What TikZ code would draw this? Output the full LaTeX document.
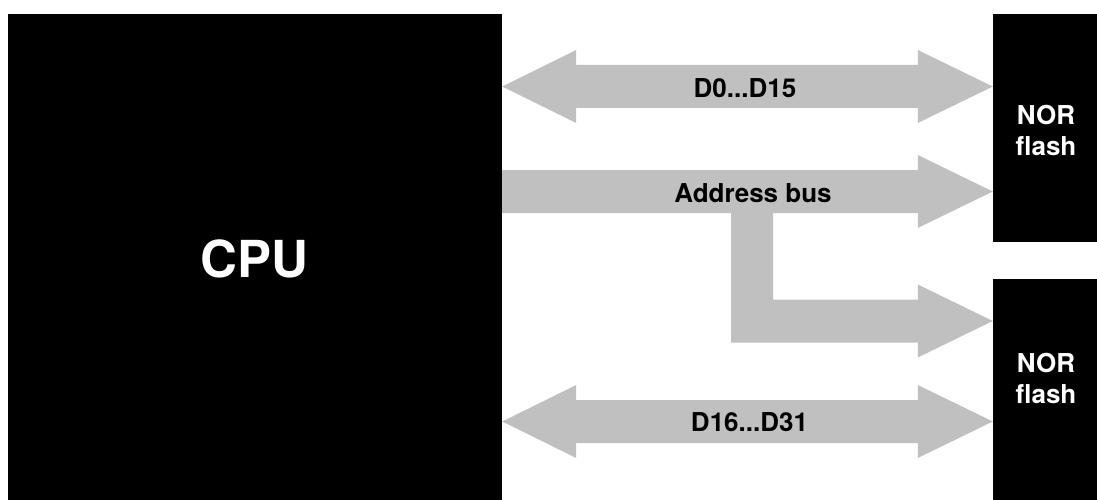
\documentclass[tikz,border=0pt]{standalone}
\usepackage{fontspec}
\setmainfont{TeX Gyre Heros}
\usetikzlibrary{calc}
\definecolor{busgray}{RGB}{192,192,192}
\begin{document}
\begin{tikzpicture}[x=1pt,y=-1pt,
  block/.style={fill=black,draw=none,inner sep=0pt,minimum width=#1},
  bus/.style={fill=busgray,draw=none},
  buslabel/.style={font=\fontsize{26}{31}\selectfont\bfseries,text=black,inner sep=0pt},
  chiplabel/.style={font=\fontsize{26}{31}\selectfont\bfseries,text=white,inner sep=0pt,align=center}]
\useasboundingbox (0,0) rectangle (1097,500);
% blocks
\node[block=494pt,minimum height=486pt] (cpu) at (255,257) {};
\node[font=\fontsize{51}{60}\selectfont\bfseries,text=white,inner sep=0pt] (cputxt) at (254.5,259) {CPU};
\node[block=104pt,minimum height=228pt] (nor1) at (1045,128) {};
\node[chiplabel] (nor1txt) at (1046,130) {NOR\\flash};
\node[block=104pt,minimum height=221pt] (nor2) at (1045,389.5) {};
\node[chiplabel] (nor2txt) at (1046,378) {NOR\\flash};
% anchor points of the buses
\coordinate (d0L) at (cpu.east |- 0,86.5);
\coordinate (d0R) at (nor1.west |- 0,86.5);
\coordinate (abL) at (cpu.east |- 0,191.5);
\coordinate (abR) at (nor1.west |- 0,191.5);
\coordinate (ab2R) at (nor2.west |- 0,321);
\coordinate (d16L) at (cpu.east |- 0,421.5);
\coordinate (d16R) at (nor2.west |- 0,421.5);
% D0...D15 bus
\fill[bus] (d0L) -- ($(d0L)+(74,-36.5)$) -- ($(d0L)+(74,-21.5)$) -- ($(d0R)+(-75,-21.5)$)
  -- ($(d0R)+(-75,-36.5)$) -- (d0R) -- ($(d0R)+(-75,36.5)$) -- ($(d0R)+(-75,21.5)$)
  -- ($(d0L)+(74,21.5)$) -- ($(d0L)+(74,36.5)$) -- cycle;
% Address bus with branch
\fill[bus] ($(abL)+(0,-21.5)$) -- ($(abR)+(-75,-21.5)$) -- ($(abR)+(-75,-36.5)$) -- (abR)
  -- ($(abR)+(-75,36.5)$) -- ($(abR)+(-75,21.5)$) -- (773,213) -- ($(773,0)+(ab2R|-0,0)-(ab2R|-0,0)+(0,299.5)$)
  -- ($(ab2R)+(-75,-21.5)$) -- ($(ab2R)+(-75,-36.5)$) -- (ab2R) -- ($(ab2R)+(-75,36.5)$)
  -- ($(ab2R)+(-75,21.5)$) -- (731,342.5) -- (731,213) -- ($(abL)+(0,21.5)$) -- cycle;
% D16...D31 bus
\fill[bus] (d16L) -- ($(d16L)+(74,-36.5)$) -- ($(d16L)+(74,-21.5)$) -- ($(d16R)+(-75,-21.5)$)
  -- ($(d16R)+(-75,-36.5)$) -- (d16R) -- ($(d16R)+(-75,36.5)$) -- ($(d16R)+(-75,21.5)$)
  -- ($(d16L)+(74,21.5)$) -- ($(d16L)+(74,36.5)$) -- cycle;
% labels
\node[buslabel] (d0txt) at (745,88.5) {D0...D15};
\node[buslabel] (abtxt) at (753,193) {Address bus};
\node[buslabel] (d16txt) at (749.5,422.5) {D16...D31};
\end{tikzpicture}
\end{document}
